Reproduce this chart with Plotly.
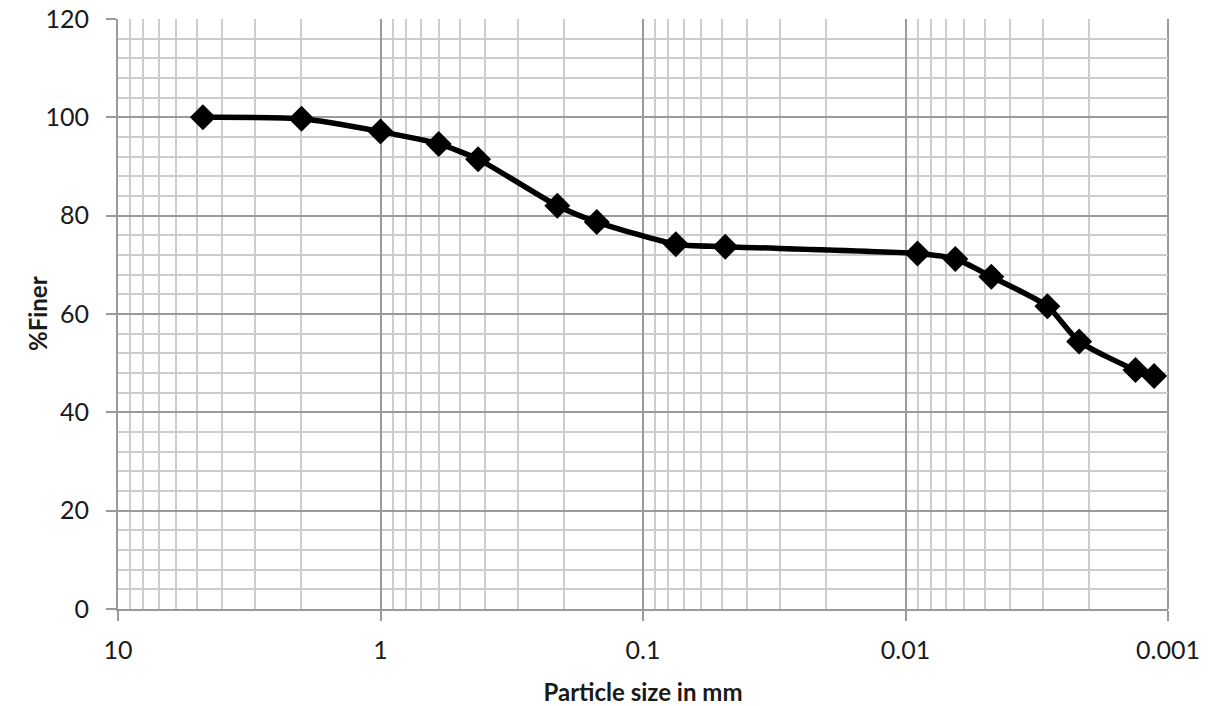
import plotly.graph_objects as go

particle_size_mm = [4.75, 2.0, 1.0, 0.6, 0.425, 0.212, 0.15, 0.075, 0.0486,
                    0.0090, 0.00646, 0.00471, 0.00288, 0.00218, 0.00133, 0.00113]
percent_finer = [100.0, 99.7, 97.1, 94.6, 91.5, 82.0, 78.7, 74.2, 73.7,
                 72.3, 71.2, 67.6, 61.6, 54.4, 48.6, 47.4]

x_tick_vals = [10, 1, 0.1, 0.01, 0.001]
x_tick_text = ["10", "1", "0.1", "0.01", "0.001"]
y_tick_vals = [0, 20, 40, 60, 80, 100, 120]
decades = [0.001, 0.01, 0.1, 1]
minor_multipliers = [2, 3, 4, 5, 6, 7, 8, 9]
x_minor_vals = [d * m for d in decades for m in minor_multipliers]

FONT = "Lato"
MAJOR = "#9a9a9a"
MINOR = "#cdcdcd"
TEXT = "#1a1a1a"

fig = go.Figure()
fig.add_trace(go.Scatter(
    x=particle_size_mm, y=percent_finer,
    mode="lines+markers",
    line=dict(color="black", width=5.5, shape="spline", smoothing=0.6),
    marker=dict(symbol="diamond", size=20, color="black"),
    showlegend=False,
))

fig.update_layout(
    width=1211, height=706,
    margin=dict(l=118, r=43, t=19, b=97),
    paper_bgcolor="white", plot_bgcolor="white",
    font=dict(family=FONT, size=25, color=TEXT),
)
fig.update_xaxes(
    type="log", range=[1, -3], automargin=False,
    tickvals=x_tick_vals, ticktext=x_tick_text,
    showgrid=True, gridcolor=MAJOR, gridwidth=2,
    showline=True, linecolor=MAJOR, linewidth=2,
    ticks="outside", ticklen=10, tickcolor=MAJOR, tickwidth=2,
    ticklabelstandoff=8,
    minor=dict(tickvals=x_minor_vals, showgrid=True, gridcolor=MINOR, gridwidth=2, ticks=""),
    zeroline=False,
    title=dict(text="Particle size in mm", font=dict(family=FONT, size=24, weight="bold", color=TEXT), standoff=22),
)
fig.update_yaxes(
    range=[0, 120], tickvals=y_tick_vals, automargin=False,
    showgrid=True, gridcolor=MAJOR, gridwidth=2,
    showline=True, linecolor=MAJOR, linewidth=2,
    ticks="outside", ticklen=10, tickcolor=MAJOR, tickwidth=2,
    ticklabelstandoff=12,
    minor=dict(dtick=4, showgrid=True, gridcolor=MINOR, gridwidth=2, ticks=""),
    zeroline=False,
)
fig.add_annotation(
    text="%Finer", xref="paper", yref="paper", x=0, y=0.5, xshift=-81,
    xanchor="center", yanchor="middle", textangle=-90, showarrow=False,
    font=dict(family=FONT, size=24, weight="bold", color=TEXT),
)
fig.update_layout(shapes=[dict(type="line", xref="paper", yref="paper", x0=1, x1=1, y0=0, y1=1,
                               line=dict(color=MAJOR, width=2), layer="below")])

fig.write_html("out.html")
